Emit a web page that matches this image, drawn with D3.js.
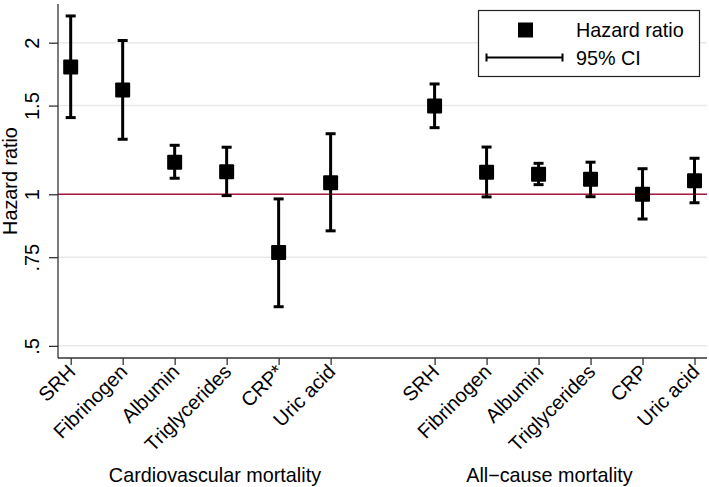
<!DOCTYPE html>
<html>
<head>
<meta charset="utf-8">
<script src="https://cdn.jsdelivr.net/npm/d3@7"></script>
<style>
  html, body { margin: 0; padding: 0; background: #fff; }
  svg { display: block; font-family: "Liberation Sans", Arial, Helvetica, sans-serif; }
</style>
</head>
<body>
<svg id="chart" width="709" height="487"></svg>
<script>
// ---- data ----
const categories = ["SRH", "Fibrinogen", "Albumin", "Triglycerides", "CRP*", "Uric acid",
                    "SRH", "Fibrinogen", "Albumin", "Triglycerides", "CRP", "Uric acid"];
const slots = [0, 1, 2, 3, 4, 5, 7, 8, 9, 10, 11, 12];
const hazardRatio = [1.79, 1.61, 1.158, 1.109, 0.766, 1.054,
                     1.497, 1.106, 1.096, 1.071, 1.0, 1.064];
const ciLower = [1.42, 1.286, 1.076, 0.994, 0.598, 0.846,
                 1.356, 0.988, 1.045, 0.989, 0.893, 0.962];
const ciUpper = [2.26, 2.02, 1.251, 1.24, 0.979, 1.319,
                 1.656, 1.241, 1.152, 1.158, 1.124, 1.179];
const yTicks = [0.5, 0.75, 1, 1.5, 2];
const yTickLabels = [".5", ".75", "1", "1.5", "2"];
const groupTitles = ["Cardiovascular mortality", "All\u2212cause mortality"];
const groupTitlePos = [2.775, 9.21];
const legendLabels = ["Hazard ratio", "95% CI"];
const referenceValue = 1;

// ---- layout ----
const svg = d3.select("#chart");
const plotLeft = 58, plotRight = 707, plotTop = 4, plotBottom = 358;

const x = d3.scaleLinear().domain([-0.244, 12.24]).range([plotLeft, plotRight]);
const y = d3.scaleLog().domain([0.473, 2.387]).range([plotBottom, plotTop]);

const fontSize = 19.8;
const tickFont = 20;

// gridlines
svg.append("g").selectAll("line").data(yTicks).join("line")
  .attr("x1", plotLeft).attr("x2", plotRight)
  .attr("y1", d => y(d)).attr("y2", d => y(d))
  .attr("stroke", "#e9e9e9").attr("stroke-width", 1.5);

// reference line
svg.append("line")
  .attr("x1", plotLeft).attr("x2", plotRight)
  .attr("y1", y(referenceValue)).attr("y2", y(referenceValue))
  .attr("stroke", "#a8173f").attr("stroke-width", 1.5);

// y axis
const yAxis = d3.axisLeft(y).tickValues(yTicks)
  .tickFormat((d, i) => yTickLabels[i]).tickSize(9).tickPadding(0);
const gy = svg.append("g").attr("transform", `translate(${plotLeft},0)`).call(yAxis);
gy.select(".domain").attr("d", `M0,${plotTop}V${plotBottom}`).attr("stroke", "#333").attr("stroke-width", 1.3);
gy.selectAll(".tick line").attr("stroke", "#333").attr("stroke-width", 1.3);
gy.selectAll(".tick text")
  .attr("font-size", tickFont).attr("fill", "#000")
  .attr("text-anchor", "middle")
  .attr("x", null).attr("dy", null)
  .attr("transform", "translate(-19,0) rotate(-90)");

// x axis
const xAxis = d3.axisBottom(x).tickValues(slots).tickFormat("").tickSize(7).tickSizeOuter(0);
const gx = svg.append("g").attr("transform", `translate(0,${plotBottom})`).call(xAxis);
gx.select(".domain").attr("d", `M${plotLeft},0H${plotRight}`).attr("stroke", "#333").attr("stroke-width", 1.3);
gx.selectAll(".tick line").attr("stroke", "#333").attr("stroke-width", 1.3);

// rotated category labels
svg.append("g").selectAll("text").data(categories).join("text")
  .attr("transform", (d, i) => `translate(${x(slots[i]) + 6},${plotBottom + 15}) rotate(-45)`)
  .attr("text-anchor", "end")
  .attr("font-size", tickFont)
  .attr("fill", "#000")
  .text(d => d);

// group titles
svg.append("g").selectAll("text").data(groupTitles).join("text")
  .attr("x", (d, i) => x(groupTitlePos[i]))
  .attr("y", 482)
  .attr("text-anchor", "middle")
  .attr("font-size", fontSize)
  .attr("fill", "#000")
  .text(d => d);

// y axis title
svg.append("text")
  .attr("transform", `translate(17,${(plotTop + plotBottom) / 2}) rotate(-90)`)
  .attr("text-anchor", "middle")
  .attr("font-size", fontSize)
  .attr("fill", "#000")
  .text("Hazard ratio");

// error bars
const capW = 5;
const eb = svg.append("g").attr("stroke", "#000").attr("stroke-width", 3);
eb.selectAll("line.v").data(hazardRatio).join("line").attr("class", "v")
  .attr("x1", (d, i) => x(slots[i])).attr("x2", (d, i) => x(slots[i]))
  .attr("y1", (d, i) => y(ciLower[i])).attr("y2", (d, i) => y(ciUpper[i]));
eb.selectAll("line.t").data(hazardRatio).join("line").attr("class", "t")
  .attr("x1", (d, i) => x(slots[i]) - capW).attr("x2", (d, i) => x(slots[i]) + capW)
  .attr("y1", (d, i) => y(ciUpper[i])).attr("y2", (d, i) => y(ciUpper[i]));
eb.selectAll("line.b").data(hazardRatio).join("line").attr("class", "b")
  .attr("x1", (d, i) => x(slots[i]) - capW).attr("x2", (d, i) => x(slots[i]) + capW)
  .attr("y1", (d, i) => y(ciLower[i])).attr("y2", (d, i) => y(ciLower[i]));

// squares
const sq = 15;
svg.append("g").selectAll("rect").data(hazardRatio).join("rect")
  .attr("x", (d, i) => x(slots[i]) - sq / 2)
  .attr("y", d => y(d) - sq / 2)
  .attr("width", sq).attr("height", sq)
  .attr("rx", 1)
  .attr("fill", "#000");

// legend
const lg = svg.append("g");
lg.append("rect").attr("x", 478.5).attr("y", 10.5).attr("width", 221).attr("height", 66)
  .attr("fill", "#fff").attr("stroke", "#222").attr("stroke-width", 1.2);
lg.append("rect").attr("x", 525.5 - 7.5).attr("y", 30 - 7.5).attr("width", 15).attr("height", 15).attr("fill", "#000");
lg.append("line").attr("x1", 486.5).attr("x2", 562.5).attr("y1", 57.5).attr("y2", 57.5)
  .attr("stroke", "#000").attr("stroke-width", 2);
[486.5, 562.5].forEach(cx => lg.append("line").attr("x1", cx).attr("x2", cx)
  .attr("y1", 53.5).attr("y2", 61.5).attr("stroke", "#000").attr("stroke-width", 2));
lg.selectAll("text.lab").data(legendLabels).join("text").attr("class", "lab")
  .attr("x", 576).attr("y", (d, i) => i === 0 ? 37 : 65)
  .attr("font-size", fontSize).attr("fill", "#000")
  .text(d => d);
</script>
</body>
</html>
